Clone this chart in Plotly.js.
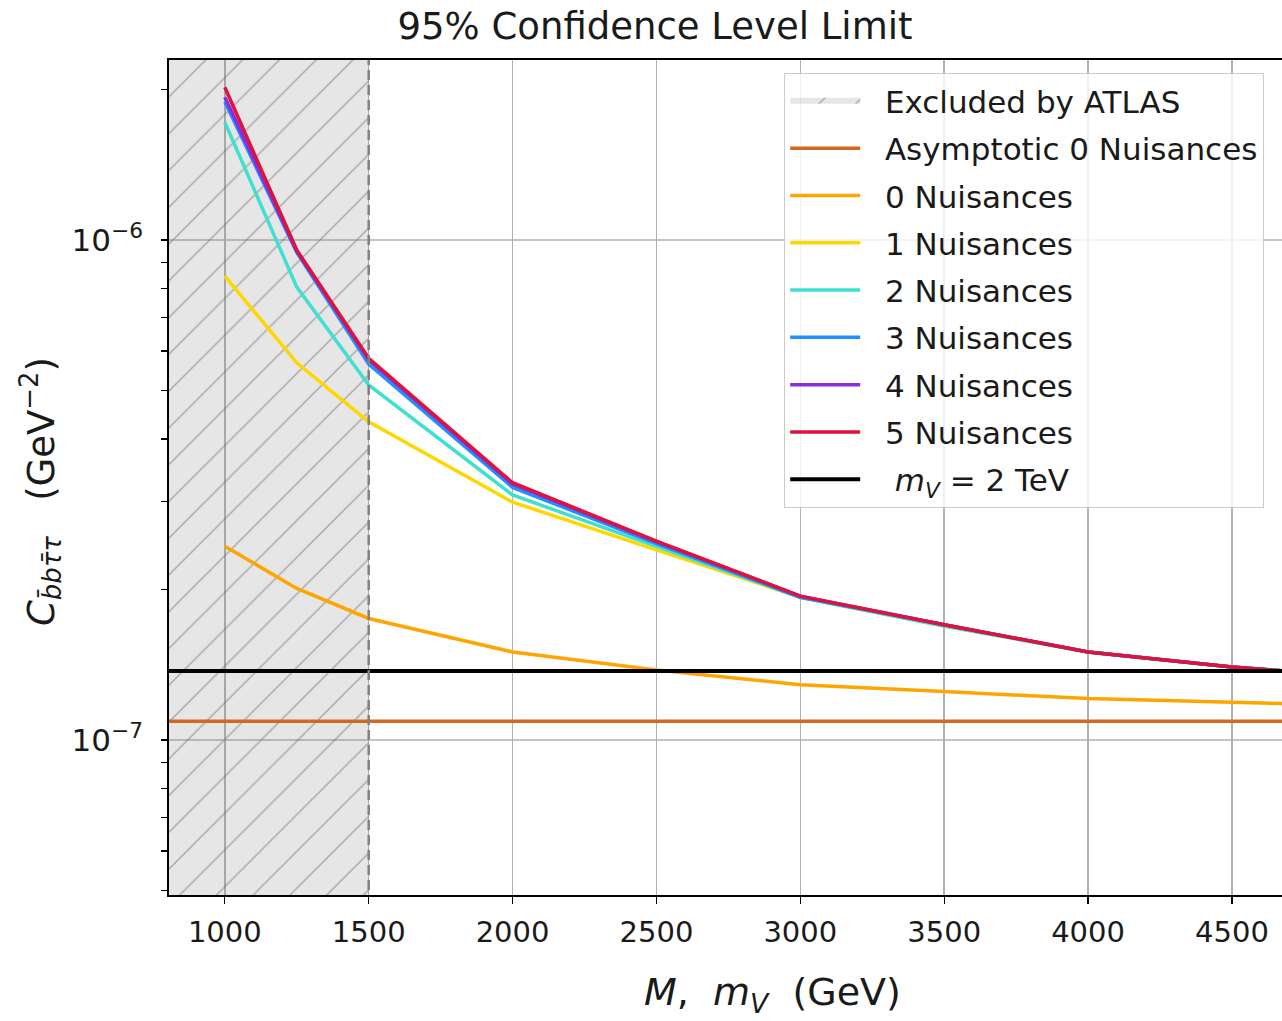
<!DOCTYPE html>
<html>
<head>
<meta charset="utf-8">
<script src="https://cdn.plot.ly/plotly-3.0.1.min.js"></script>
<style>
  html, body { margin: 0; padding: 0; background: #ffffff; }
  #chart { width: 1282px; height: 1021px; }
</style>
</head>
<body>
<div id="chart"></div>
<script>
// Resonance masses (GeV) at which the limits were computed
const masses = [1000, 1250, 1500, 2000, 2500, 3000, 3500, 4000, 4500, 5000];

// 95% CL upper limits on C_bbtautau (GeV^-2) for each nuisance configuration
const limitAsymptotic0 = 1.09e-7;
const limit0 = [2.44e-7, 2.01e-7, 1.75e-7, 1.50e-7, 1.38e-7, 1.29e-7, 1.25e-7, 1.21e-7, 1.19e-7, 1.17e-7];
const limit1 = [8.47e-7, 5.68e-7, 4.33e-7, 2.99e-7, 2.40e-7, 1.93e-7, 1.69e-7, 1.50e-7, 1.40e-7, 1.33e-7];
const limit2 = [1.72e-6, 8.05e-7, 5.13e-7, 3.09e-7, 2.44e-7, 1.93e-7, 1.69e-7, 1.50e-7, 1.40e-7, 1.33e-7];
const limit3 = [1.89e-6, 9.45e-7, 5.65e-7, 3.20e-7, 2.47e-7, 1.93e-7, 1.70e-7, 1.50e-7, 1.40e-7, 1.33e-7];
const limit4 = [1.93e-6, 9.50e-7, 5.76e-7, 3.25e-7, 2.49e-7, 1.94e-7, 1.70e-7, 1.50e-7, 1.40e-7, 1.33e-7];
const limit5 = [2.02e-6, 9.55e-7, 5.80e-7, 3.27e-7, 2.50e-7, 1.94e-7, 1.70e-7, 1.50e-7, 1.40e-7, 1.33e-7];

// Reference coupling for a 2 TeV vector mediator
const limitMv2TeV = 1.374e-7;

// Mass range excluded by ATLAS
const excludedMax = 1500;

// Axis ranges and ticks
const xRange = [806, 4674];
const yRangeLog = [-7.31, -5.64];
const xTicks = [1000, 1500, 2000, 2500, 3000, 3500, 4000, 4500];
const yMajorTicks = [1e-7, 1e-6];
const yMajorLabels = ['10<sup>−7</sup>', '10<sup>−6</sup>'];

const seriesNames = ['Asymptotic 0 Nuisances', '0 Nuisances', '1 Nuisances', '2 Nuisances',
                     '3 Nuisances', '4 Nuisances', '5 Nuisances'];
const seriesColors = ['#d2691e', '#ffa500', '#ffd700', '#40e0d0', '#1e90ff', '#8a2be2', '#dc143c'];

const FONT = 'DejaVu Sans, Verdana, sans-serif';
const GAP = '\u00a0\u00a0';   // space between legend symbol and label
const spanX = [0, 6000];
const spanY = [1e-10, 1e-3];

// Minor log ticks: 2..9 within each decade
const minorTicks = [];
[-8, -7, -6].forEach(e => { for (let k = 2; k <= 9; k++) minorTicks.push(k * Math.pow(10, e)); });

const traces = [];

// Horizontal grid lines at the decades
yMajorTicks.forEach(v => {
  traces.push({
    type: 'scatter', mode: 'lines', showlegend: false, hoverinfo: 'skip',
    x: spanX, y: [v, v],
    line: { color: '#b0b0b0', width: 1.5 }
  });
});

// Shaded, hatched exclusion band
traces.push({
  type: 'scatter', mode: 'none',
  name: GAP + 'Excluded by ATLAS',
  legendgroup: 'g0',
  x: [spanX[0], excludedMax, excludedMax, spanX[0], spanX[0]],
  y: [spanY[0], spanY[0], spanY[1], spanY[1], spanY[0]],
  fill: 'toself',
  fillcolor: 'rgba(128,128,128,0.2)',
  fillpattern: {
    shape: '/',
    size: 26,
    solidity: 0.06,
    fgcolor: 'rgba(110,110,110,0.5)',
    bgcolor: 'rgba(128,128,128,0.2)',
    fillmode: 'replace'
  },
  hoverinfo: 'skip'
});

// Asymptotic limit (flat across the whole mass range)
traces.push({
  type: 'scatter', mode: 'lines',
  name: GAP + seriesNames[0], legendgroup: 'g1',
  x: spanX, y: [limitAsymptotic0, limitAsymptotic0],
  line: { color: seriesColors[0], width: 3.5 }
});

const limits = [limit0, limit1, limit2, limit3, limit4, limit5];
limits.forEach((vals, i) => {
  traces.push({
    type: 'scatter', mode: 'lines',
    name: GAP + seriesNames[i + 1], legendgroup: 'g' + (i + 2),
    x: masses, y: vals,
    line: { color: seriesColors[i + 1], width: 3.5 }
  });
});

// m_V = 2 TeV reference line
traces.push({
  type: 'scatter', mode: 'lines',
  name: GAP + '\u00a0<i>m</i><sub><i>V</i></sub> = 2 TeV', legendgroup: 'g9',
  x: spanX, y: [limitMv2TeV, limitMv2TeV],
  line: { color: '#000000', width: 4 }
});

// Boundary of the excluded region
traces.push({
  type: 'scatter', mode: 'lines',
  showlegend: false,
  x: [excludedMax, excludedMax], y: spanY,
  line: { color: '#808080', width: 2.5, dash: '10px,5px' },
  hoverinfo: 'skip'
});

const layout = {
  width: 1282,
  height: 1021,
  paper_bgcolor: '#ffffff',
  plot_bgcolor: '#ffffff',
  margin: { l: 169, r: 0, t: 60, b: 126, pad: 0 },
  font: { family: FONT, color: '#000000', size: 30 },
  showlegend: true,
  title: {
    text: '95% Confidence Level Limit',
    font: { family: FONT, size: 37, color: '#1a1a1a' },
    x: 655 / 1282, xref: 'container', xanchor: 'center',
    y: 1 - 26 / 1021, yref: 'container', yanchor: 'middle'
  },
  xaxis: {
    range: xRange,
    tickvals: xTicks,
    ticktext: xTicks.map(String),
    ticks: 'outside', ticklen: 7, tickwidth: 1.3, tickcolor: '#000000',
    ticklabelstandoff: 3,
    tickfont: { family: FONT, size: 29, color: '#1a1a1a' },
    showline: true, linecolor: '#000000', linewidth: 1.8, mirror: true,
    showgrid: true, gridcolor: '#b0b0b0', gridwidth: 1.5,
    zeroline: false
  },
  yaxis: {
    type: 'log',
    range: yRangeLog,
    tickmode: 'array',
    tickvals: yMajorTicks.concat(minorTicks),
    ticktext: yMajorLabels.concat(minorTicks.map(() => '')),
    ticks: 'outside', ticklen: 6, tickwidth: 1.2, tickcolor: '#000000',
    ticklabelstandoff: 12,
    tickfont: { family: FONT, size: 31, color: '#1a1a1a' },
    showline: true, linecolor: '#000000', linewidth: 1.8, mirror: false,
    showgrid: false,
    zeroline: false
  },
  legend: {
    x: (784 - 169) / 1113, y: (895 - 73) / 835,
    xanchor: 'left', yanchor: 'top',
    bgcolor: 'rgba(255,255,255,0.8)',
    bordercolor: '#cccccc', borderwidth: 1.2,
    font: { family: FONT, size: 31, color: '#1a1a1a' },
    itemwidth: 70,
    tracegroupgap: 4,
    traceorder: 'grouped'
  },
  annotations: [
    {
      text: '<i>M</i>,  <i>m</i><sub><i>V</i></sub>  (GeV)',
      xref: 'paper', yref: 'paper',
      x: (772 - 169) / 1113, y: (895 - 994) / 835,
      xanchor: 'center', yanchor: 'middle',
      showarrow: false,
      font: { family: FONT, size: 38, color: '#1a1a1a' }
    },
    {
      text: '<i>C</i><sub><i>b\u0304bτ\u0304τ</i></sub>   (GeV<sup>−2</sup>)',
      xref: 'paper', yref: 'paper',
      x: (40 - 169) / 1113, y: (895 - 492) / 835,
      xanchor: 'center', yanchor: 'middle',
      textangle: -90,
      showarrow: false,
      font: { family: FONT, size: 37, color: '#1a1a1a' }
    }
  ]
};

Plotly.newPlot('chart', traces, layout, { displayModeBar: false, staticPlot: true });
</script>
</body>
</html>
